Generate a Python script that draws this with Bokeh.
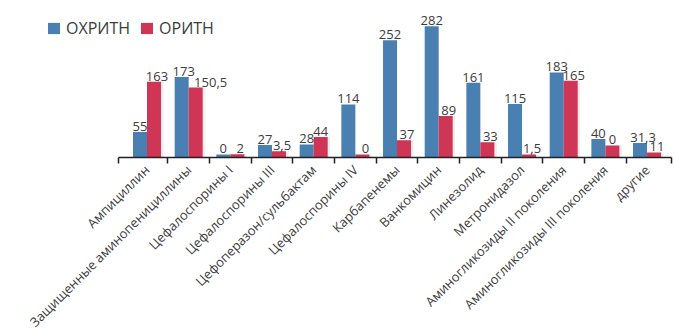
import numpy as np
from bokeh.plotting import figure
from bokeh.models import ColumnDataSource, Range1d, FixedTicker, Legend, LegendItem
from bokeh.transform import dodge
from bokeh.core.properties import value
from bokeh.embed import file_html
from bokeh.resources import INLINE

# ---- data ----
categories = [
    "Ампициллин",
    "Защищенные аминопенициллины",
    "Цефалоспорины I",
    "Цефалоспорины III",
    "Цефоперазон/сульбактам",
    "Цефалоспорины IV",
    "Карбапенемы",
    "Ванкомицин",
    "Линезолид",
    "Метронидазол",
    "Аминогликозиды II поколения",
    "Аминогликозиды III поколения",
    "другие",
]
series_names = ["ОХРИТН", "ОРИТН"]
# bar heights as drawn in the picture
ohritn_values = [55, 173, 6.5, 27, 28, 114, 252, 282, 161, 115, 183, 40, 31.3]
oritn_values = [163, 150.5, 7, 13.5, 44, 6.5, 37, 89, 33, 6.5, 165, 26, 11]
# value labels as printed in the picture
ohritn_labels = ["55", "173", "0", "27", "28", "114", "252", "282", "161", "115", "183", "40", "31,3"]
oritn_labels = ["163", "150,5", "2", "3,5", "44", "0", "37", "89", "33", "1,5", "165", "0", "11"]

# ---- styling / layout ----
BLUE = "#4a7fb2"
RED = "#cf3656"
TEXT = "#3c3c3c"
FONT = "Open Sans"
BAND_PX = 41.67
X0_PX = 146.5
FRAME_W = 674
FRAME_H = 157
PX_PER_UNIT = 0.465
BAR_W = 0.336
HALF = BAR_W / 2
# extra horizontal nudges (px) of a few value labels, as in the picture
blue_nudge = {1: 2, 12: 3}
red_nudge_default = 3
red_nudge = {1: 15, 4: 0, 11: 0}

x = list(range(len(categories)))
src = ColumnDataSource(dict(
    x=x, a=ohritn_values, b=oritn_values, la=ohritn_labels, lb=oritn_labels,
    na=[blue_nudge.get(i, 0) for i in x],
    nb=[red_nudge.get(i, red_nudge_default) for i in x],
))

x_range = Range1d(-X0_PX / BAND_PX, (FRAME_W - X0_PX) / BAND_PX)
p = figure(frame_width=FRAME_W, frame_height=FRAME_H,
           x_range=x_range, y_range=Range1d(0, FRAME_H / PX_PER_UNIT),
           output_backend="svg", toolbar_location=None, min_border=0,
           y_axis_location=None, outline_line_color=None,
           background_fill_color="white", border_fill_color="white")
p.xgrid.visible = False
p.ygrid.visible = False

# subtle shadow to the right of each pair
p.vbar(x=dodge("x", HALF + 0.06, range=x_range), top="b", width=BAR_W, bottom=0,
       source=src, fill_color="#000000", fill_alpha=0.07, line_color=None)

rA = p.vbar(x=dodge("x", -HALF, range=x_range), top="a", width=BAR_W, bottom=0,
            source=src, fill_color=BLUE, line_color=None)
rB = p.vbar(x=dodge("x", HALF, range=x_range), top="b", width=BAR_W, bottom=0,
            source=src, fill_color=RED, line_color=None)

p.text(x=dodge("x", -HALF, range=x_range), y="a", text="la", source=src,
       text_align="center", text_baseline="bottom", y_offset=-1, x_offset="na",
       text_font=value(FONT), text_font_size="13px", text_color=TEXT)
p.text(x=dodge("x", HALF, range=x_range), y="b", text="lb", source=src,
       text_align="center", text_baseline="bottom", y_offset=-1, x_offset="nb",
       text_font=value(FONT), text_font_size="13px", text_color=TEXT)

ax = p.xaxis[0]
n = len(categories)
lo, hi = -0.684, n - 1 + 0.587
ax.ticker = FixedTicker(ticks=x, minor_ticks=[lo] + [i + 0.5 for i in range(n - 1)] + [hi])
ax.bounds = (lo, hi)
ax.major_label_overrides = {i: c for i, c in enumerate(categories)}
ax.major_label_orientation = np.pi / 4
ax.major_tick_in = 0
ax.major_tick_out = 0
ax.minor_tick_in = 0
ax.minor_tick_out = 6
ax.axis_line_color = "#222222"
ax.axis_line_width = 1.5
ax.minor_tick_line_color = "#222222"
ax.minor_tick_line_width = 1.5
ax.major_label_standoff = 4
ax.major_label_text_font = FONT
ax.major_label_text_font_size = "13px"
ax.major_label_text_color = TEXT

legend = Legend(items=[LegendItem(label=series_names[0], renderers=[rA]),
                       LegendItem(label=series_names[1], renderers=[rB])],
                location=(46, 118), orientation="horizontal",
                glyph_width=15, glyph_height=14, label_standoff=5, spacing=9,
                padding=0, margin=0, border_line_alpha=0, background_fill_alpha=0,
                label_text_font=FONT, label_text_font_size="16px",
                label_text_color=TEXT)
p.add_layout(legend)

open("out.html", "w").write(file_html(p, INLINE))
